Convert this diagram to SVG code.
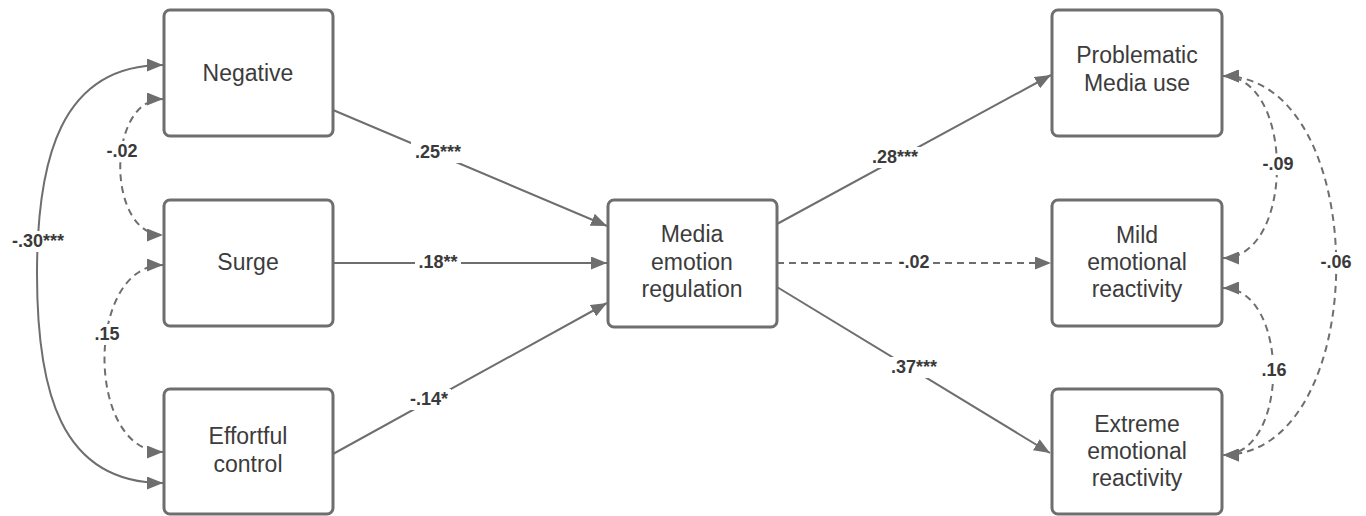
<svg xmlns="http://www.w3.org/2000/svg" width="1366" height="516" viewBox="0 0 1366 516">
  <style>
    .box { fill: #ffffff; stroke: #6e6e6e; stroke-width: 3; }
    .node-text { font-family: "Liberation Sans", Arial, sans-serif; font-size: 23px; fill: #3c3c3c; text-anchor: middle; }
    .edge { fill: none; stroke: #6e6e6e; stroke-width: 2; }
    .dash { stroke-dasharray: 7 5; }
    .label-bg { fill: #ffffff; }
    .label { font-family: "Liberation Sans", Arial, sans-serif; font-size: 18px; font-weight: bold; fill: #3a3a3a; text-anchor: middle; }
  </style>
  <defs>
    <marker id="arrow" markerUnits="userSpaceOnUse" markerWidth="17" markerHeight="13" refX="16" refY="6.5" orient="auto-start-reverse" viewBox="0 0 17 13">
      <path d="M0,0 L16,6.5 L0,13 Z" fill="#6e6e6e"/>
    </marker>
  </defs>
  <rect width="1366" height="516" fill="#ffffff"/>

  <!-- connectors -->
  <g id="connectors">
    <!-- paths into the mediator -->
    <path class="edge" d="M333,110 L607,226" marker-end="url(#arrow)"/>
    <path class="edge" d="M333,263 L607,263" marker-end="url(#arrow)"/>
    <path class="edge" d="M333,454 L607,303" marker-end="url(#arrow)"/>
    <!-- paths out of the mediator -->
    <path class="edge" d="M777,224 L1051,75" marker-end="url(#arrow)"/>
    <path class="edge dash" d="M777,263 L1051,263" marker-end="url(#arrow)"/>
    <path class="edge" d="M777,287 L1050,453" marker-end="url(#arrow)"/>
    <!-- covariances among predictors -->
    <path class="edge" d="M163,65 C60,65 37,160 37,274 C37,390 60,483 163,483" marker-start="url(#arrow)" marker-end="url(#arrow)"/>
    <path class="edge dash" d="M163,99 C106,99 106,235 163,235" marker-start="url(#arrow)" marker-end="url(#arrow)"/>
    <path class="edge dash" d="M163,265 C85,265 85,452 163,452" marker-start="url(#arrow)" marker-end="url(#arrow)"/>
    <!-- covariances among outcomes -->
    <path class="edge dash" d="M1223,76 C1295,76 1295,258 1223,258" marker-start="url(#arrow)" marker-end="url(#arrow)"/>
    <path class="edge dash" d="M1223,288 C1290,288 1290,455 1223,455" marker-start="url(#arrow)" marker-end="url(#arrow)"/>
    <path class="edge dash" d="M1223,76 C1374,76 1374,455 1223,455" marker-start="url(#arrow)" marker-end="url(#arrow)"/>

    <!-- coefficient labels -->
    <rect class="label-bg" x="411" y="142" width="55" height="21"/>
    <text class="label" x="438" y="158">.25***</text>
    <rect class="label-bg" x="415" y="252" width="46" height="21"/>
    <text class="label" x="438" y="268">.18**</text>
    <rect class="label-bg" x="407" y="389" width="44" height="21"/>
    <text class="label" x="429" y="405">-.14*</text>
    <rect class="label-bg" x="869" y="147" width="53" height="21"/>
    <text class="label" x="895" y="163">.28***</text>
    <rect class="label-bg" x="895" y="252" width="38" height="21"/>
    <text class="label" x="914" y="268">-.02</text>
    <rect class="label-bg" x="888" y="357" width="53" height="21"/>
    <text class="label" x="914" y="373">.37***</text>
    <rect class="label-bg" x="9" y="231" width="59" height="21"/>
    <text class="label" x="38" y="247">-.30***</text>
    <rect class="label-bg" x="104" y="141" width="37" height="21"/>
    <text class="label" x="122" y="157">-.02</text>
    <rect class="label-bg" x="92" y="324" width="30" height="21"/>
    <text class="label" x="107" y="340">.15</text>
    <rect class="label-bg" x="1260" y="154" width="37" height="21"/>
    <text class="label" x="1278" y="170">-.09</text>
    <rect class="label-bg" x="1259" y="360" width="31" height="21"/>
    <text class="label" x="1274" y="376">.16</text>
    <rect class="label-bg" x="1317" y="252" width="38" height="21"/>
    <text class="label" x="1336" y="268">-.06</text>
  </g>

  <!-- predictors -->
  <g id="negative">
    <rect class="box" x="164" y="10" width="169" height="126" rx="6"/>
    <text class="node-text" x="248" y="81">Negative</text>
  </g>
  <g id="surge">
    <rect class="box" x="164" y="200" width="169" height="126" rx="6"/>
    <text class="node-text" x="248" y="270">Surge</text>
  </g>
  <g id="effortful-control">
    <rect class="box" x="164" y="389" width="169" height="125" rx="6"/>
    <text class="node-text" x="248" y="444">Effortful</text>
    <text class="node-text" x="248" y="472">control</text>
  </g>

  <!-- mediator -->
  <g id="media-emotion-regulation">
    <rect class="box" x="608" y="200" width="169" height="127" rx="6"/>
    <text class="node-text" x="692" y="242">Media</text>
    <text class="node-text" x="692" y="270">emotion</text>
    <text class="node-text" x="692" y="297">regulation</text>
  </g>

  <!-- outcomes -->
  <g id="problematic-media-use">
    <rect class="box" x="1052" y="10" width="170" height="126" rx="6"/>
    <text class="node-text" x="1137" y="63">Problematic</text>
    <text class="node-text" x="1137" y="91">Media use</text>
  </g>
  <g id="mild-emotional-reactivity">
    <rect class="box" x="1052" y="200" width="170" height="126" rx="6"/>
    <text class="node-text" x="1137" y="243">Mild</text>
    <text class="node-text" x="1137" y="270">emotional</text>
    <text class="node-text" x="1137" y="297">reactivity</text>
  </g>
  <g id="extreme-emotional-reactivity">
    <rect class="box" x="1052" y="389" width="170" height="125" rx="6"/>
    <text class="node-text" x="1137" y="432">Extreme</text>
    <text class="node-text" x="1137" y="459">emotional</text>
    <text class="node-text" x="1137" y="486">reactivity</text>
  </g>
</svg>
